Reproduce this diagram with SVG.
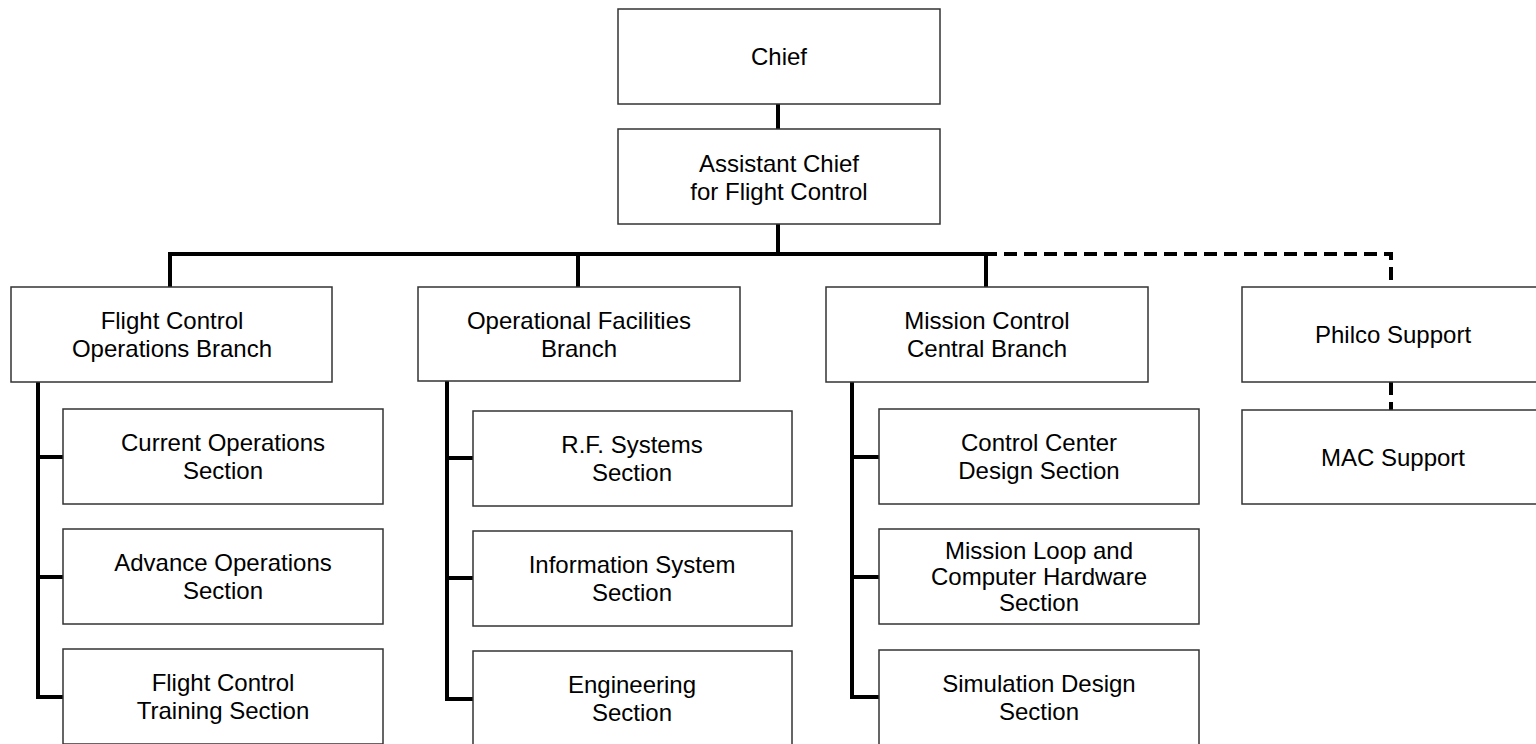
<svg xmlns="http://www.w3.org/2000/svg" width="1536" height="744" viewBox="0 0 1536 744">
<style>
.box{fill:#fff;stroke:#333;stroke-width:1.5}
.t{font-family:"Liberation Sans",Arial,sans-serif;font-size:24px;fill:#000;text-anchor:middle}
.c{fill:none;stroke:#000;stroke-width:4;stroke-linejoin:miter;stroke-linecap:butt}
.d{fill:none;stroke:#000;stroke-width:4;stroke-dasharray:13 7}
</style>
<rect width="1536" height="744" fill="#fff"/>
<g id="connectors">
<path class="c" d="M778,104V129"/>
<path class="c" d="M778,224V254"/>
<path class="c" d="M170,288V254H997"/>
<path class="c" d="M578,254V288"/>
<path class="c" d="M986,254V288"/>
<path class="d" d="M1004,254H1391V287"/>
<path class="d" d="M1391,382V410"/>
<path class="c" d="M38,382V697H63"/>
<path class="c" d="M38,457H63M38,577H63"/>
<path class="c" d="M447,381V699H473"/>
<path class="c" d="M447,458H473M447,578H473"/>
<path class="c" d="M852,382V697H879"/>
<path class="c" d="M852,457H879M852,577H879"/>
</g>
<g id="chief"><rect class="box" x="618" y="9" width="322" height="95"/><text class="t" x="779" y="65">Chief</text></g>
<g id="assistant"><rect class="box" x="618" y="129" width="322" height="95"/><text class="t" x="779" y="172">Assistant Chief</text><text class="t" x="779" y="200">for Flight Control</text></g>
<g id="fcob"><rect class="box" x="11" y="287" width="321" height="95"/><text class="t" x="172" y="329">Flight Control</text><text class="t" x="172" y="357">Operations Branch</text></g>
<g id="cos"><rect class="box" x="63" y="409" width="320" height="95"/><text class="t" x="223" y="451">Current Operations</text><text class="t" x="223" y="479">Section</text></g>
<g id="aos"><rect class="box" x="63" y="529" width="320" height="95"/><text class="t" x="223" y="571">Advance Operations</text><text class="t" x="223" y="599">Section</text></g>
<g id="fcts"><rect class="box" x="63" y="649" width="320" height="95"/><text class="t" x="223" y="691">Flight Control</text><text class="t" x="223" y="719">Training Section</text></g>
<g id="ofb"><rect class="box" x="418" y="287" width="322" height="94"/><text class="t" x="579" y="329">Operational Facilities</text><text class="t" x="579" y="357">Branch</text></g>
<g id="rfs"><rect class="box" x="473" y="411" width="319" height="95"/><text class="t" x="632" y="453">R.F. Systems</text><text class="t" x="632" y="481">Section</text></g>
<g id="iss"><rect class="box" x="473" y="531" width="319" height="95"/><text class="t" x="632" y="573">Information System</text><text class="t" x="632" y="601">Section</text></g>
<g id="eng"><rect class="box" x="473" y="651" width="319" height="95"/><text class="t" x="632" y="693">Engineering</text><text class="t" x="632" y="721">Section</text></g>
<g id="mccb"><rect class="box" x="826" y="287" width="322" height="95"/><text class="t" x="987" y="329">Mission Control</text><text class="t" x="987" y="357">Central Branch</text></g>
<g id="ccds"><rect class="box" x="879" y="409" width="320" height="95"/><text class="t" x="1039" y="451">Control Center</text><text class="t" x="1039" y="479">Design Section</text></g>
<g id="mlch"><rect class="box" x="879" y="529" width="320" height="95"/><text class="t" x="1039" y="559">Mission Loop and</text><text class="t" x="1039" y="585">Computer Hardware</text><text class="t" x="1039" y="611">Section</text></g>
<g id="sds"><rect class="box" x="879" y="650" width="320" height="95"/><text class="t" x="1039" y="692">Simulation Design</text><text class="t" x="1039" y="720">Section</text></g>
<g id="philco"><rect class="box" x="1242" y="287" width="321" height="95"/><text class="t" x="1393" y="343">Philco Support</text></g>
<g id="mac"><rect class="box" x="1242" y="410" width="321" height="94"/><text class="t" x="1393" y="466">MAC Support</text></g>
</svg>
